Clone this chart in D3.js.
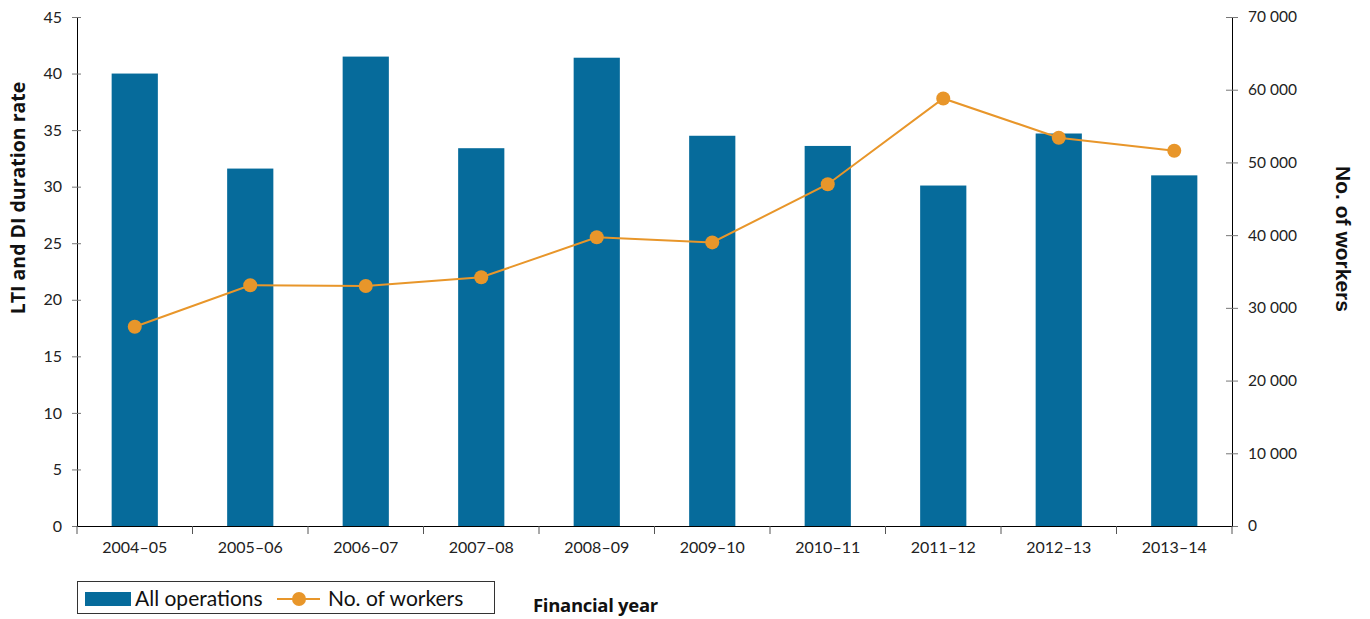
<!DOCTYPE html>
<html>
<head>
<meta charset="utf-8">
<script src="https://cdn.jsdelivr.net/npm/d3@7"></script>
<style>
  body { margin: 0; background: #fff; }
  svg text { font-family: Lato, "Open Sans", sans-serif; }
</style>
</head>
<body>
<svg id="chart" width="1370" height="619"></svg>
<script>
// Financial years and the two series
const years = ["2004–05","2005–06","2006–07","2007–08","2008–09","2009–10","2010–11","2011–12","2012–13","2013–14"];
const durationRate = [40.0, 31.6, 41.5, 33.4, 41.4, 34.5, 33.6, 30.1, 34.7, 31.0];
const workers = [27400, 33100, 33000, 34200, 39700, 39000, 47000, 58800, 53400, 51600];
const leftTicks = [0,5,10,15,20,25,30,35,40,45];
const rightTicks = [0,10000,20000,30000,40000,50000,60000,70000];

const barColor = "#066b9b";
const lineColor = "#e8962a";

const svg = d3.select("#chart");
const m = { left: 77, right: 1232, top: 17, bottom: 526 };

const x = d3.scaleBand().domain(years).range([m.left, m.right]).paddingInner(0).paddingOuter(0);
const yL = d3.scaleLinear().domain([0, 45]).range([m.bottom, m.top]);
const yR = d3.scaleLinear().domain([0, 70000]).range([m.bottom, m.top]);

const fmtWorkers = d => d3.format(",")(d).replace(/,/g, " ");

// Bars
const barW = x.bandwidth() * 0.4;
svg.append("g").selectAll("rect").data(years).join("rect")
  .attr("x", d => x(d) + (x.bandwidth() - barW) / 2)
  .attr("y", (d, i) => yL(durationRate[i]))
  .attr("width", barW)
  .attr("height", (d, i) => yL(0) - yL(durationRate[i]))
  .attr("fill", barColor);

// Left axis
const gL = svg.append("g").attr("transform", `translate(${m.left},0)`)
  .call(d3.axisLeft(yL).tickValues(leftTicks).tickSize(5).tickPadding(10).tickSizeOuter(0));
gL.select(".domain").attr("stroke", "#000");
gL.selectAll(".tick line").attr("stroke", "#777").attr("x1", 4);
gL.selectAll(".tick text").attr("font-size", 16).attr("fill", "#222");

// Right axis
const gR = svg.append("g").attr("transform", `translate(${m.right},0)`)
  .call(d3.axisRight(yR).tickValues(rightTicks).tickFormat(fmtWorkers).tickSize(6).tickPadding(10).tickSizeOuter(0));
gR.select(".domain").attr("stroke", "#000");
gR.selectAll(".tick line").attr("stroke", "#777").attr("x1", -6);
gR.selectAll(".tick text").attr("font-size", 15.5).attr("fill", "#222");

// Bottom axis with ticks at category boundaries
const gB = svg.append("g").attr("transform", `translate(0,${m.bottom})`)
  .call(d3.axisBottom(x).tickSize(0).tickPadding(16));
gB.select(".domain").attr("stroke", "#000");
gB.selectAll(".tick text").attr("font-size", 16).attr("fill", "#222");
const bounds = years.map(d => x(d)).concat([m.right]);
gB.selectAll("line.bound").data(bounds).join("line")
  .attr("class", "bound")
  .attr("x1", d => d).attr("x2", d => d)
  .attr("y1", 0).attr("y2", 8)
  .attr("stroke", "#555");

// Workers line
const cx = d => x(d) + x.bandwidth() / 2;
const line = d3.line().x((d, i) => cx(years[i])).y(d => yR(d));
svg.append("path").datum(workers)
  .attr("d", line)
  .attr("fill", "none")
  .attr("stroke", lineColor)
  .attr("stroke-width", 2);
svg.append("g").selectAll("circle").data(workers).join("circle")
  .attr("cx", (d, i) => cx(years[i]))
  .attr("cy", d => yR(d))
  .attr("r", 7)
  .attr("fill", lineColor);

// Axis titles
svg.append("text")
  .attr("transform", `translate(25,198) rotate(-90)`)
  .attr("text-anchor", "middle")
  .style("font-family", "'Open Sans', sans-serif")
  .attr("font-weight", "bold").attr("font-size", 19.5).attr("fill", "#111")
  .text("LTI and DI duration rate");

svg.append("text")
  .attr("transform", `translate(1336,239) rotate(90)`)
  .attr("text-anchor", "middle")
  .style("font-family", "'Liberation Sans', Arial, sans-serif")
  .attr("font-weight", "bold").attr("font-size", 21).attr("fill", "#111")
  .text("No. of workers");

svg.append("text")
  .attr("x", 533).attr("y", 612)
  .style("font-family", "'Open Sans', sans-serif")
  .attr("font-weight", "bold").attr("font-size", 18.5).attr("letter-spacing", -0.3).attr("fill", "#111")
  .text("Financial year");

// Legend
const lg = svg.append("g");
lg.append("rect").attr("x", 77.5).attr("y", 581.5).attr("width", 417).attr("height", 32)
  .attr("fill", "#fff").attr("stroke", "#333").attr("stroke-width", 1);
lg.append("rect").attr("x", 85).attr("y", 592).attr("width", 46).attr("height", 14).attr("fill", barColor);
lg.append("text").attr("x", 135).attr("y", 606).attr("font-size", 21).attr("fill", "#111").text("All operations");
lg.append("line").attr("x1", 277).attr("x2", 320).attr("y1", 599).attr("y2", 599)
  .attr("stroke", lineColor).attr("stroke-width", 2);
lg.append("circle").attr("cx", 299).attr("cy", 599).attr("r", 7).attr("fill", lineColor);
lg.append("text").attr("x", 328).attr("y", 606).attr("font-size", 21).attr("fill", "#111").text("No. of workers");
</script>
</body>
</html>
